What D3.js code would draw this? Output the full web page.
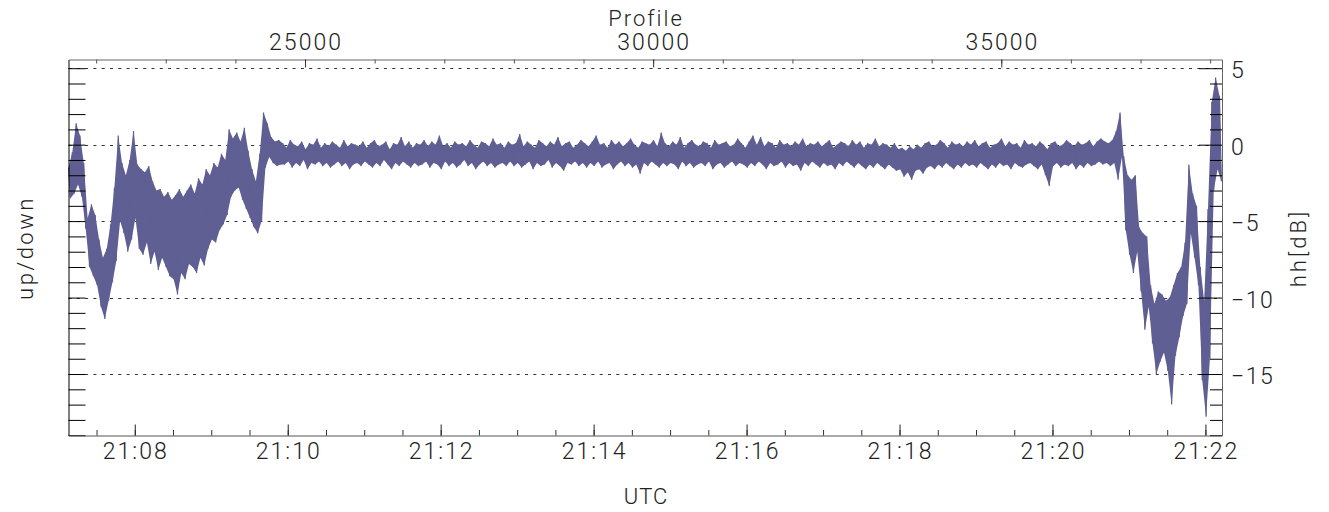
<!DOCTYPE html>
<html>
<head>
<meta charset="utf-8">
<script src="https://cdn.jsdelivr.net/npm/d3@7"></script>
<style>
body { margin: 0; background: #fff; }
text { font-family: Roboto, "DejaVu Sans", sans-serif; font-weight: 300; fill: #222; }
</style>
</head>
<body>
<svg id="chart" width="1329" height="512"></svg>
<script>
// time span of the record and the sampling of the envelope below
const startTime = '21:07:08';
const endTime = '21:22:13';
const stepSec = 3;

const profileDomain = [21603, 38170];
const profileMajor = [25000, 30000, 35000];
const dbDomain = [-19.02, 5.57];
const dbLabels = [5, 0, -5, -10, -15];

// upper edge of the hh trace in each 3 s bin [dB]
const hiVals = [
  // 21:07 - 21:10, noisy start
  -1.5, -0.5, 1.4, 0.6, -1.2, -4.8, -3.9, -4.6, -6.2, -7.4,
  -6.8, -5.2, -2.8, 0.6, -1.2, -2.0, -1.0, 0.9, -1.3, -1.6,
  -1.8, -1.4, -2.4, -3.0, -2.9, -3.4, -3.1, -3.6, -3.3, -2.9,
  -3.4, -3.0, -2.6, -3.2, -2.2, -2.6, -1.6, -2.0, -1.2, -1.5,
  -0.6, -1.0, 1.0, 0.4, 0.8, 0.2, 1.1, -0.4, -1.6, -2.4,
  -0.6, 2.1, 1.4, 0.5, 0.2, 0.3,
  // 21:10 - 21:21, flat part
  0.1, -0.2, 0.3, 0.0, -0.1, 0.2, -0.3, 0.1, 0.0, 0.4, -0.2, 0.1, -0.1, 0.2, 0.0, -0.2, 0.3, -0.1, 0.1, 0.0,
  -0.1, 0.2, -0.2, 0.1, 0.3, -0.1, 0.0, 0.2, -0.3, 0.1, 0.0, 0.5, -0.1, 0.2, -0.2, 0.1, 0.0, 0.3, -0.1, 0.2,
  0.0, 0.6, -0.1, 0.1, -0.2, 0.2, 0.0, 0.1, -0.1, 0.3, 0.0, -0.2, 0.2, 0.1, -0.1, 0.4, 0.0, 0.1, -0.2, 0.2,
  0.0, 0.1, 0.7, -0.1, 0.2, 0.0, -0.2, 0.3, 0.1, -0.1, 0.2, 0.0, 0.5, -0.1, 0.1, 0.2, -0.2, 0.0, 0.3, 0.1,
  -0.1, 0.2, 0.6, 0.0, 0.1, -0.2, 0.3, 0.0, 0.2, -0.1, 0.1, 0.4, 0.0, -0.2, 0.2, 0.1, 0.0, 0.3, -0.1, 0.8,
  0.1, -0.1, 0.2, 0.0, 0.5, -0.2, 0.1, 0.3, 0.0, -0.1, 0.2, 0.1, -0.2, 0.3, 0.0, 0.1, 0.2, -0.1, 0.0, 0.4,
  0.1, -0.2, 0.2, 0.6, 0.0, 0.5, -0.1, 0.2, 0.1, -0.2, 0.3, 0.0, 0.1, -0.1, 0.2, 0.0, 0.4, -0.1, 0.1, 0.0,
  0.2, -0.1, 0.1, 0.3, -0.2, 0.0, 0.2, 0.1, -0.1, 0.3, 0.0, 0.2, -0.2, 0.1, 0.0, 0.4, -0.1, 0.1, 0.0, -0.2,
  0.1, -0.3, -0.2, -0.4, -0.1, -0.3, 0.0, -0.2, 0.1, 0.2, -0.1, 0.0, 0.3, 0.1, -0.2, 0.2, 0.0, 0.1, -0.1, 0.2,
  0.0, 0.3, -0.1, 0.1, 0.2, -0.2, 0.0, 0.1, 0.4, -0.1, 0.2, 0.0, 0.1, -0.2, 0.3, 0.0, 0.1, -0.1, 0.2, 0.0,
  -0.3, 0.1, 0.2, -0.1, 0.0, 0.3, 0.1, -0.1, 0.2, 0.0, 0.1, 0.3, -0.1, 0.2, 0.4, 0.2,
  // 21:21 - 21:22, noisy end
  0.1, 0.3, 0.9, 2.1, -0.8, -2.0, -2.3, -2.0, -5.4, -5.8,
  -6.0, -9.2, -10.4, -9.6, -9.8, -10.2, -10.0, -9.2, -8.4, -8.0,
  -6.4, -1.3, -3.2, -4.0, -8.0, -10.2, -4.2, 2.8, 4.4, 3.2
];

// lower edge of the hh trace in each 3 s bin [dB]
const loVals = [
  -3.5, -3.2, -2.6, -3.4, -5.5, -8.0, -8.6, -9.2, -10.6, -11.4,
  -10.2, -9.0, -7.6, -5.0, -5.8, -7.0, -6.2, -4.8, -6.8, -7.2,
  -6.4, -7.8, -7.0, -8.2, -7.4, -8.0, -8.6, -8.8, -9.8, -8.4,
  -8.8, -7.8, -8.0, -8.4, -7.4, -7.9, -6.8, -6.2, -6.4, -5.6,
  -5.2, -4.6, -3.4, -3.0, -2.8, -3.6, -4.2, -4.8, -5.4, -5.8,
  -5.0, -1.5, -0.8, -1.2, -1.4, -1.3,
  -1.3, -1.1, -1.5, -1.2, -1.4, -1.0, -1.6, -1.2, -1.3, -1.1, -1.4, -1.2, -1.5, -1.3, -1.1, -1.4, -1.2, -1.6, -1.3, -1.2,
  -1.4, -1.1, -1.3, -1.5, -1.2, -1.4, -1.0, -1.3, -1.6, -1.2, -1.4, -1.1, -1.3, -1.5, -1.2, -1.4, -1.3, -1.1, -1.5, -1.2,
  -1.3, -1.6, -1.1, -1.4, -1.2, -1.5, -1.3, -1.0, -1.4, -1.2, -1.6, -1.3, -1.1, -1.4, -1.2, -1.5, -1.3, -1.2, -1.4, -1.1,
  -1.4, -1.2, -1.5, -1.3, -1.1, -1.6, -1.2, -1.4, -1.3, -1.0, -1.5, -1.2, -1.4, -1.7, -1.2, -1.3, -1.1, -1.4, -1.2, -1.5,
  -1.2, -1.4, -1.1, -1.5, -1.3, -1.2, -1.6, -1.3, -1.1, -1.4, -1.2, -1.5, -1.3, -1.9, -1.2, -1.4, -1.1, -1.3, -1.5, -1.2,
  -1.4, -1.2, -1.3, -1.6, -1.1, -1.4, -1.2, -1.5, -1.3, -1.2, -1.4, -1.1, -1.6, -1.3, -1.2, -1.5, -1.3, -1.1, -1.4, -1.2,
  -1.3, -1.5, -1.2, -1.4, -1.1, -1.3, -1.6, -1.2, -1.4, -1.3, -1.1, -1.5, -1.2, -1.4, -1.3, -1.7, -1.2, -1.4, -1.1, -1.3,
  -1.5, -1.2, -1.4, -1.3, -1.6, -1.2, -1.4, -1.1, -1.3, -1.5, -1.2, -1.4, -1.6, -1.3, -1.5, -1.2, -1.4, -1.6, -1.3, -1.5,
  -1.7, -1.6, -2.1, -1.8, -2.3, -1.7, -1.6, -1.9, -1.5, -1.4, -1.6, -1.3, -1.5, -1.2, -1.4, -1.6, -1.3, -1.5, -1.2, -1.4,
  -1.3, -1.5, -1.2, -1.4, -1.6, -1.3, -1.5, -1.2, -1.4, -1.3, -1.6, -1.2, -1.4, -1.5, -1.3, -1.2, -1.4, -1.6, -1.3, -2.0,
  -2.7, -1.4, -1.2, -1.5, -1.3, -1.4, -1.2, -1.6, -1.3, -1.5, -1.2, -1.4, -1.3, -1.1, -1.3, -1.2,
  -1.4, -1.2, -2.3, -0.8, -5.6, -7.2, -8.4, -7.0, -9.6, -12.1,
  -10.6, -13.0, -15.0, -14.2, -13.6, -14.8, -17.0, -13.8, -12.6, -11.2,
  -10.4, -5.8, -7.4, -9.2, -15.4, -17.8, -14.0, -3.0, -1.6, -2.4
];

const plotLeft = 68.5, plotRight = 1222, plotTop = 59.5, plotBottom = 435.5;
const lineColor = '#5f5f94';

const svg = d3.select('#chart');
const parseT = s => new Date('2000-01-01T' + s + 'Z');

var x = d3.scaleUtc()
    .domain([parseT(startTime), parseT(endTime)])
    .range([plotLeft, plotRight]);

var xp = d3.scaleLinear()
    .domain(profileDomain)
    .range([plotLeft, plotRight]);

var y = d3.scaleLinear()
    .domain(dbDomain)
    .range([plotBottom, plotTop]);

// each bin: upper edge at its start, lower edge half a step later
var bins = hiVals.map((h, i) => {
    var t = +parseT(startTime) + i * stepSec * 1000;
    return { tHi: t, tLo: t + stepSec * 500, hi: h, lo: loVals[i] };
});
var points = [];
bins.forEach(b => {
    points.push([b.tHi, b.hi]);
    points.push([b.tLo, b.lo]);
});

// dotted grid
svg.selectAll('.grid').data(dbLabels)
    .enter().append('line')
    .attr('class', 'grid')
    .attr('x1', plotLeft).attr('x2', plotRight)
    .attr('y1', d => Math.round(y(d)) + 0.5)
    .attr('y2', d => Math.round(y(d)) + 0.5)
    .attr('stroke', '#333')
    .attr('stroke-dasharray', '3,5.3');

// dense noise band between the edges, then the trace itself
var band = d3.area()
    .x1(d => x(d.tHi)).y1(d => y(d.hi))
    .x0(d => x(d.tLo)).y0(d => y(d.lo));

svg.append('path')
    .attr('d', band(bins))
    .attr('fill', lineColor)
    .attr('stroke', 'none');

var line = d3.line()
    .x(d => x(d[0]))
    .y(d => y(d[1]));

svg.append('path')
    .attr('d', line(points))
    .attr('fill', 'none')
    .attr('stroke', lineColor)
    .attr('stroke-width', 1.2);

// left axis (up/down): ticks only
var yInts = d3.range(-19, 6);
svg.append('g')
    .attr('transform', 'translate(' + plotLeft + ',0)')
    .call(d3.axisRight(y).tickValues(yInts).tickSize(17).tickSizeOuter(0).tickFormat(''))
    .call(g => g.select('.domain').attr('stroke', '#000'))
    .call(g => g.selectAll('.tick line').attr('stroke', '#000'));

// right axis (hh[dB])
svg.append('g')
    .attr('transform', 'translate(' + plotRight + ',0)')
    .call(d3.axisLeft(y).tickValues(yInts.filter(v => v % 5 != 0)).tickSize(12).tickSizeOuter(0).tickFormat(''))
    .call(g => g.select('.domain').attr('stroke', '#666'))
    .call(g => g.selectAll('.tick line').attr('stroke', '#000'));
svg.append('g')
    .attr('transform', 'translate(' + plotRight + ',0)')
    .call(d3.axisLeft(y).tickValues(yInts.filter(v => v % 5 == 0)).tickSize(23).tickFormat(''))
    .call(g => g.select('.domain').remove())
    .call(g => g.selectAll('.tick line').attr('stroke', '#000'));

svg.selectAll('.rlab').data(dbLabels)
    .enter().append('text')
    .attr('class', 'rlab')
    .attr('x', plotRight + 9)
    .attr('y', d => y(d) + 10)
    .attr('font-size', 23)
    .attr('letter-spacing', 1.5)
    .text(d => d < 0 ? '\u2212' + Math.abs(d) : d);

// top axis (Profile)
svg.append('g')
    .attr('transform', 'translate(0,' + plotTop + ')')
    .call(d3.axisBottom(xp).tickValues(d3.range(22000, 38001, 1000)).tickSize(4).tickSizeOuter(0).tickFormat(''))
    .call(g => g.select('.domain').attr('stroke', '#666'))
    .call(g => g.selectAll('.tick line').attr('stroke', '#555'));
svg.append('g')
    .attr('transform', 'translate(0,' + plotTop + ')')
    .call(d3.axisBottom(xp).tickValues(profileMajor).tickSize(8).tickFormat(''))
    .call(g => g.select('.domain').remove())
    .call(g => g.selectAll('.tick line').attr('stroke', '#333'));

svg.selectAll('.tlab').data(profileMajor)
    .enter().append('text')
    .attr('class', 'tlab')
    .attr('x', d => xp(d) + 1)
    .attr('y', 50)
    .attr('text-anchor', 'middle')
    .attr('font-size', 23)
    .attr('letter-spacing', 2)
    .text(d => d);

svg.append('text')
    .attr('x', 646).attr('y', 26)
    .attr('text-anchor', 'middle')
    .attr('font-size', 22)
    .attr('letter-spacing', 2)
    .text('Profile');

// bottom axis (UTC)
var t0 = parseT(startTime), t1 = parseT(endTime);
var minorT = d3.utcSecond.every(30).range(t0, t1);
var majorT = d3.utcMinute.every(2).range(t0, t1);
svg.append('g')
    .attr('transform', 'translate(0,' + plotBottom + ')')
    .call(d3.axisTop(x).tickValues(minorT).tickSize(5.5).tickSizeOuter(0).tickFormat(''))
    .call(g => g.select('.domain').attr('stroke', '#555'))
    .call(g => g.selectAll('.tick line').attr('stroke', '#333'));
svg.append('g')
    .attr('transform', 'translate(0,' + plotBottom + ')')
    .call(d3.axisTop(x).tickValues(majorT).tickSize(11).tickFormat(''))
    .call(g => g.select('.domain').remove())
    .call(g => g.selectAll('.tick line').attr('stroke', '#222'));

svg.selectAll('.blab').data(majorT)
    .enter().append('text')
    .attr('class', 'blab')
    .attr('x', d => x(d) + 1)
    .attr('y', 459)
    .attr('text-anchor', 'middle')
    .attr('font-size', 23)
    .attr('letter-spacing', 2)
    .text(d3.utcFormat('%H:%M'));

svg.append('text')
    .attr('x', 646).attr('y', 504)
    .attr('text-anchor', 'middle')
    .attr('font-size', 22)
    .attr('letter-spacing', 1)
    .text('UTC');

// rotated axis titles
svg.append('text')
    .attr('transform', 'translate(33,248) rotate(-90)')
    .attr('text-anchor', 'middle')
    .attr('font-size', 22)
    .attr('letter-spacing', 2.5)
    .text('up/down');

svg.append('text')
    .attr('transform', 'translate(1306,248) rotate(-90)')
    .attr('text-anchor', 'middle')
    .attr('font-size', 22)
    .attr('letter-spacing', 3)
    .text('hh[dB]');
</script>
</body>
</html>
